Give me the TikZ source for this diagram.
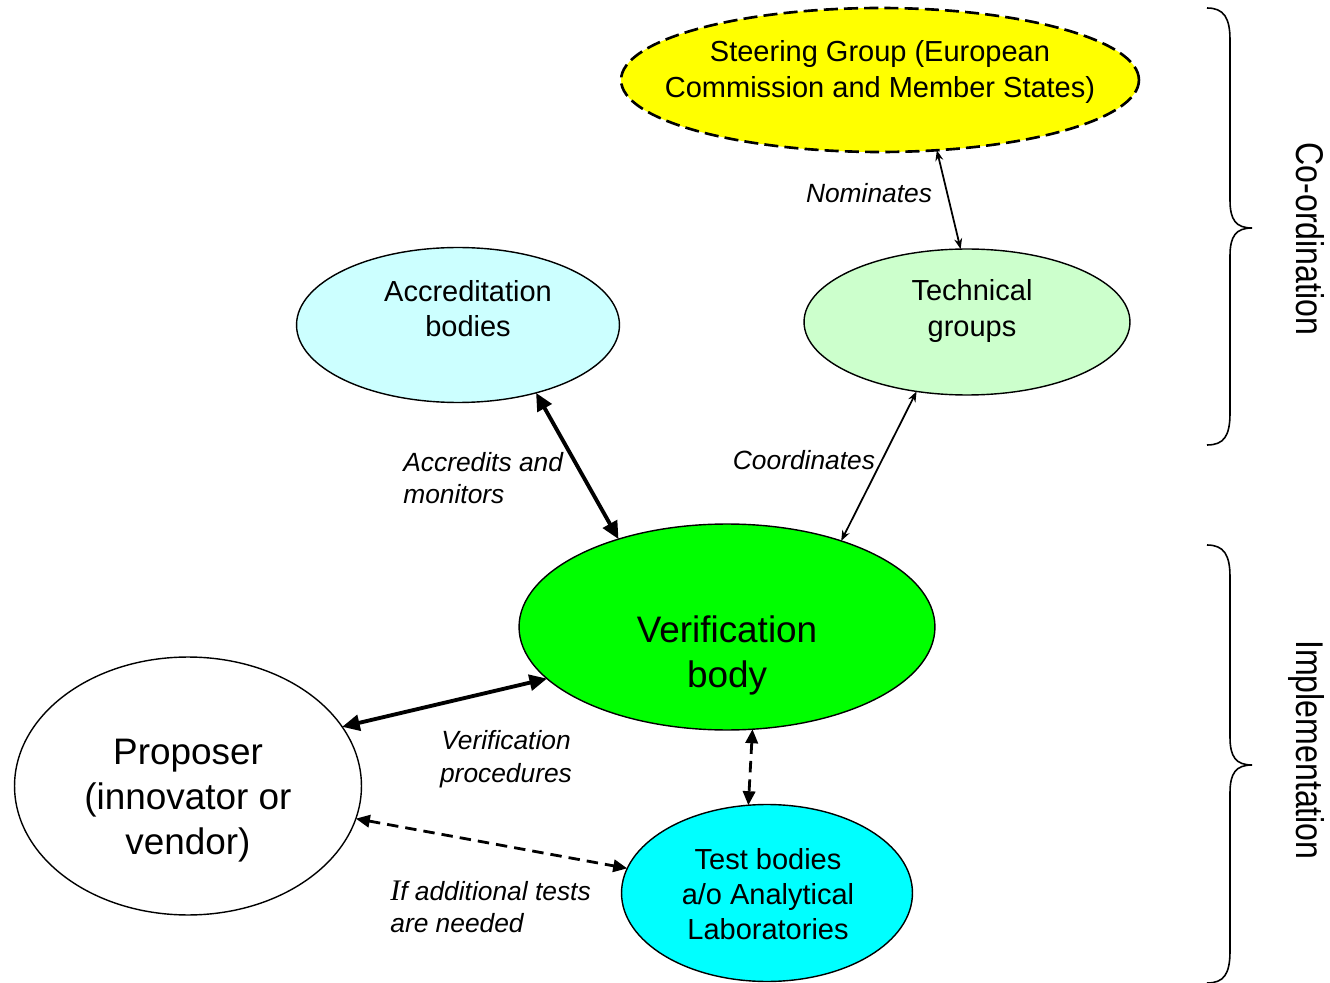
\documentclass[tikz,border=0pt]{standalone}
\usepackage{fontspec}
\setmainfont{Liberation Sans}
\newfontfamily\timesfont{Liberation Serif}
\usetikzlibrary{shapes.geometric,arrows.meta}

\definecolor{steeryellow}{RGB}{255,255,0}
\definecolor{accblue}{RGB}{204,255,255}
\definecolor{techgreen}{RGB}{204,255,204}
\definecolor{verifgreen}{RGB}{0,255,0}
\definecolor{testcyan}{RGB}{0,255,255}

\begin{document}
\begin{tikzpicture}[x=0.02cm,y=-0.02cm,
  blob/.style={ellipse,draw,line width=0.8pt,inner sep=0pt,outer sep=0pt},
  txt/.style={align=center,font=\fontsize{16.5}{20}\selectfont},
  bigtxt/.style={align=center,font=\fontsize{21}{25.6}\selectfont},
  lbl/.style={inner sep=0pt,font=\fontsize{15}{18.5}\selectfont\itshape},
  sidetxt/.style={inner sep=0pt,anchor=base,font=\fontsize{22}{26}\selectfont},
  boldarrow/.style={line width=2.2pt,{Triangle[length=10pt,width=9pt]}-{Triangle[length=10pt,width=9pt]}},
  thinarrow/.style={line width=1pt,{Stealth[length=6pt,width=4.5pt]}-{Stealth[length=6pt,width=4.5pt]}},
  dasharrow/.style={line width=1.6pt,dash pattern=on 6.5pt off 4pt,{Triangle[length=8pt,width=7pt]}-{Triangle[length=8pt,width=7pt]}},
  brace/.style={line width=0.9pt}]

\useasboundingbox (0,0) rectangle (1330,983);

% Drawing the ellipses
\node[blob,fill=steeryellow,line width=1.5pt,dash pattern=on 8pt off 3.5pt,minimum width=10.36cm,minimum height=2.88cm] (steer) at (880,80) {};
\node[blob,fill=accblue,minimum width=6.46cm,minimum height=3.1cm] (acc) at (458,325) {};
\node[blob,fill=techgreen,minimum width=6.52cm,minimum height=2.92cm] (tech) at (967,322) {};
\node[blob,fill=verifgreen,minimum width=8.32cm,minimum height=4.12cm] (verif) at (727,627) {};
\node[blob,fill=white,minimum width=6.94cm,minimum height=5.16cm] (prop) at (188,786) {};
\node[blob,fill=testcyan,minimum width=5.82cm,minimum height=3.54cm] (test) at (767,893) {};

% Texts in them
\node[txt] (steer-t) at (880,72) {Steering Group (European\\Commission and Member States)};
\node[txt] (acc-t) at (468,309) {Accreditation\\bodies};
\node[txt] (tech-t) at (972,311) {Technical\\groups};
\node[bigtxt] (verif-t) at (727,655) {Verification\\body};
\node[bigtxt] (prop-t) at (188,801) {Proposer\\(innovator or\\vendor)};
\node[txt] (test-t) at (768,894) {Test bodies\\a/o Analytical\\Laboratories};

% Connecting them
\draw[thinarrow] (steer.-51) -- (tech.95);
\draw[boldarrow] (acc.-41) -- (verif.141);
\draw[thinarrow] (tech.-126) -- (verif.37);
\draw[boldarrow] (prop.21.5) -- (verif.-164);
\draw[dasharrow] (verif.-76) -- (test.102);
\draw[dasharrow] (prop.-11) -- (test.170);

% Labels on the connectors
\node[lbl] (nom) at (869,193) {Nominates};
\node[lbl,align=left,anchor=west] (accmon) at (403,478) {Accredits and\\monitors};
\node[lbl] (coordl) at (804,460) {Coordinates};
\node[lbl,align=center] (proc) at (506,759) {Verification\\procedures};
\node[lbl,align=left,anchor=west] (addtest) at (390,907) {{\timesfont\itshape\fontsize{17}{18.5}\selectfont I}f additional tests\\are needed};

% Drawing braces
\draw[brace] (1207,8) .. controls (1224,8) and (1230,18) .. (1230,40) -- (1230,200)
  .. controls (1230,220) and (1236,228) .. (1252,228)
  .. controls (1236,228) and (1230,236) .. (1230,256) -- (1230,413)
  .. controls (1230,436) and (1224,445) .. (1207,445);
\draw[brace] (1207,545) .. controls (1224,545) and (1230,555) .. (1230,577) -- (1230,737)
  .. controls (1230,757) and (1236,765) .. (1252,765)
  .. controls (1236,765) and (1230,773) .. (1230,793) -- (1230,951)
  .. controls (1230,974) and (1224,983) .. (1207,983);

\node[sidetxt,rotate=-90,xscale=0.83] (coord) at (1296,239) {Co-ordination};
\node[sidetxt,rotate=-90,xscale=0.83] (impl) at (1296,750) {Implementation};

\end{tikzpicture}
\end{document}
